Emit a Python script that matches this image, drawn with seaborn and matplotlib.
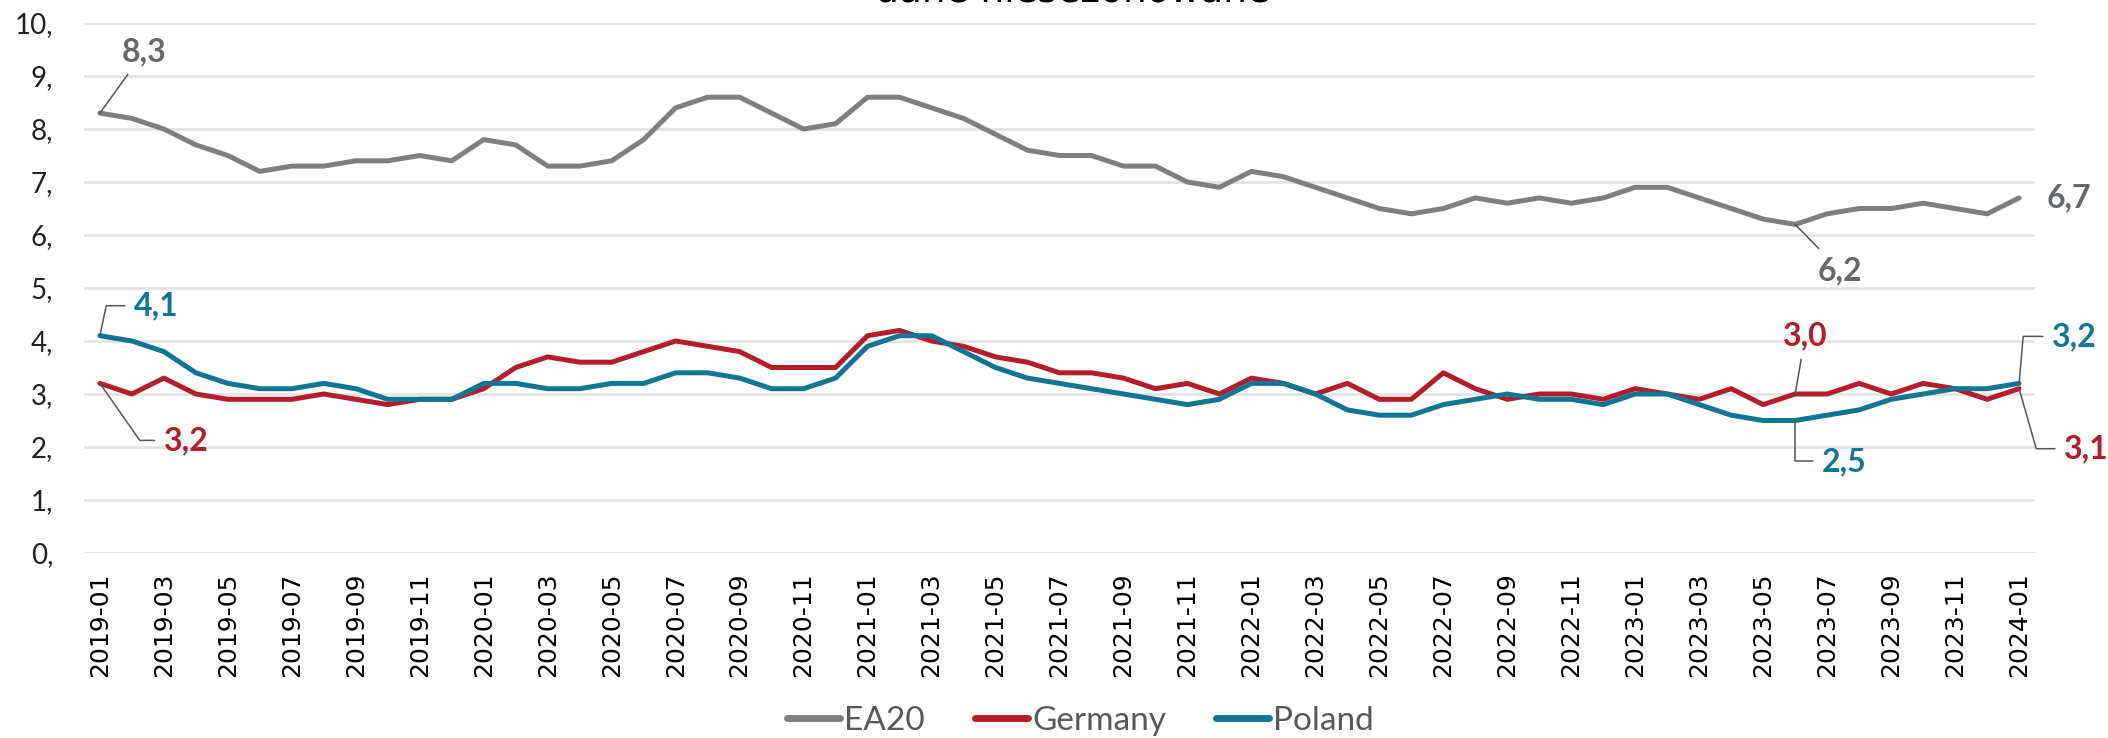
import pandas as pd
import matplotlib.pyplot as plt
import seaborn as sns
import numpy as np

# monthly data 2019-01 .. 2024-01
months = pd.period_range('2019-01', '2024-01', freq='M').strftime('%Y-%m').tolist()

ea20 = [8.3, 8.2, 8.0, 7.7, 7.5, 7.2, 7.3, 7.3, 7.4, 7.4,
        7.5, 7.4, 7.8, 7.7, 7.3, 7.3, 7.4, 7.8, 8.4, 8.6,
        8.6, 8.3, 8.0, 8.1, 8.6, 8.6, 8.4, 8.2, 7.9, 7.6,
        7.5, 7.5, 7.3, 7.3, 7.0, 6.9, 7.2, 7.1, 6.9, 6.7,
        6.5, 6.4, 6.5, 6.7, 6.6, 6.7, 6.6, 6.7, 6.9, 6.9,
        6.7, 6.5, 6.3, 6.2, 6.4, 6.5, 6.5, 6.6, 6.5, 6.4,
        6.7]
germany = [3.2, 3.0, 3.3, 3.0, 2.9, 2.9, 2.9, 3.0, 2.9, 2.8,
           2.9, 2.9, 3.1, 3.5, 3.7, 3.6, 3.6, 3.8, 4.0, 3.9,
           3.8, 3.5, 3.5, 3.5, 4.1, 4.2, 4.0, 3.9, 3.7, 3.6,
           3.4, 3.4, 3.3, 3.1, 3.2, 3.0, 3.3, 3.2, 3.0, 3.2,
           2.9, 2.9, 3.4, 3.1, 2.9, 3.0, 3.0, 2.9, 3.1, 3.0,
           2.9, 3.1, 2.8, 3.0, 3.0, 3.2, 3.0, 3.2, 3.1, 2.9,
           3.1]
poland = [4.1, 4.0, 3.8, 3.4, 3.2, 3.1, 3.1, 3.2, 3.1, 2.9,
          2.9, 2.9, 3.2, 3.2, 3.1, 3.1, 3.2, 3.2, 3.4, 3.4,
          3.3, 3.1, 3.1, 3.3, 3.9, 4.1, 4.1, 3.8, 3.5, 3.3,
          3.2, 3.1, 3.0, 2.9, 2.8, 2.9, 3.2, 3.2, 3.0, 2.7,
          2.6, 2.6, 2.8, 2.9, 3.0, 2.9, 2.9, 2.8, 3.0, 3.0,
          2.8, 2.6, 2.5, 2.5, 2.6, 2.7, 2.9, 3.0, 3.1, 3.1,
          3.2]

series = ['EA20', 'Germany', 'Poland']
colors = {'EA20': '#7f7f7f', 'Germany': '#b51c2c', 'Poland': '#117693'}
label_colors = {'EA20': '#65696b', 'Germany': '#b51c2c', 'Poland': '#117693'}
yticks = list(range(0, 11))

n = len(months)
df = pd.DataFrame({
    'pos': list(range(n)) * 3,
    'value': ea20 + germany + poland,
    'series': [s for s in series for _ in range(n)],
})

sns.set_style('white')
label_font = ['Lato', 'DejaVu Sans']
plt.rcParams['font.family'] = ['DejaVu Sans']

fig, ax = plt.subplots(figsize=(21.08, 7.38), dpi=100)
fig.subplots_adjust(left=0.0398, right=0.9654, bottom=0.2507, top=0.9688)

sns.lineplot(data=df, x='pos', y='value', hue='series', palette=colors,
             linewidth=3.6, ax=ax, legend=False)

# axes styling
ax.set_xlim(-0.5, n - 0.5)
ax.set_ylim(0, 10)
ax.set_yticks(yticks)
ax.set_yticklabels([f'{v},' for v in yticks], fontsize=20, family=label_font, color='#222222')
ax.set_xticks(range(0, n, 2))
ax.set_xticklabels(months[::2], rotation=90, fontsize=18, color='black')
ax.tick_params(axis='y', length=0, pad=22)
ax.tick_params(axis='x', length=0, pad=14)
ax.grid(axis='y', color='#e4e4e4', linewidth=2)
ax.grid(axis='x', visible=False)
for sp in ax.spines.values():
    sp.set_visible(False)
ax.set_xlabel('')
ax.set_ylabel('')

# title cut at the top
fig.text(0.509, 1 - 1 / 738, 'dane niesezonowane', ha='center', va='baseline',
         fontsize=27, color='black')

values = {'EA20': ea20, 'Germany': germany, 'Poland': poland}


def fmt(v):
    return f'{v:.1f}'.replace('.', ',')


def label(name, i, dx, dy, conn=None, rel=(0.5, 0.5), line=True):
    v = values[name][i]
    arrow = None
    if line:
        arrow = dict(arrowstyle='-', color='#555555', lw=1.1, shrinkA=4, shrinkB=0,
                     relpos=rel, connectionstyle=conn or 'arc3')
    ax.annotate(fmt(v), xy=(i, v), xytext=(dx, dy), textcoords='offset pixels',
                ha='center', va='center', fontsize=23, fontweight='bold',
                family=label_font, color=label_colors[name], arrowprops=arrow)


last = n - 1
label('EA20', 0, 44, 61)
label('Poland', 0, 56, 30, conn='angle,angleA=0,angleB=78,rad=0', rel=(0, 0.5))
label('Germany', 0, 86, -57, conn='angle,angleA=0,angleB=-55,rad=0', rel=(0, 0.5))
label('EA20', 53, 45, -46)
label('Germany', 53, 10, 58)
label('Poland', 53, 49, -41, conn='angle,angleA=0,angleB=90,rad=0', rel=(0, 0.5))
label('EA20', last, 50, 0, line=False)
label('Poland', last, 55, 47, conn='angle,angleA=0,angleB=85,rad=0', rel=(0, 0.5))
label('Germany', last, 67, -60, conn='angle,angleA=0,angleB=-74,rad=0', rel=(0, 0.5))

# legend
handles = [plt.Line2D([], [], color=colors[s], lw=5, solid_capstyle='round') for s in series]
leg = fig.legend(handles, series, loc='center', bbox_to_anchor=(0.5125, 0.023), ncol=3,
                 frameon=False, handlelength=1.6, handletextpad=0.12, columnspacing=1.5,
                 prop={'family': label_font, 'size': 24})
for t in leg.get_texts():
    t.set_color('#595959')

fig.savefig('out.png', dpi=100)
